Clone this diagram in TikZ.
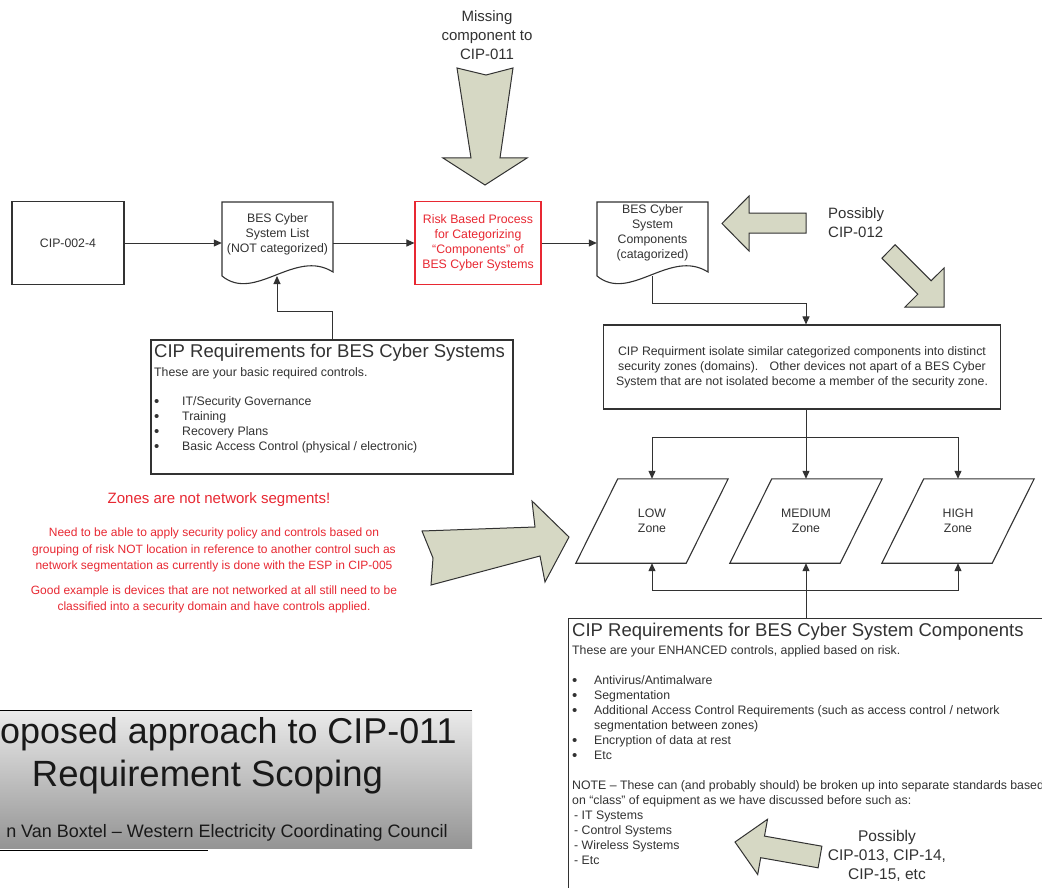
\documentclass[tikz,border=0pt]{standalone}
\usepackage{fontspec}
\setmainfont{Liberation Sans}
\usetikzlibrary{arrows.meta,calc}
\definecolor{linegray}{RGB}{50,50,50}
\definecolor{arrowfill}{RGB}{214,216,196}
\definecolor{notered}{RGB}{232,40,50}
\newcommand{\itembullet}[1]{\makebox[#1][l]{\raisebox{-0.8pt}{\fontsize{15}{15}\selectfont\textbullet}}}

\begin{document}
\begin{tikzpicture}[x=1pt, y=-1pt,
  every node/.style={text=linegray},
  txt/.style={font=\fontsize{12.3}{15}\selectfont, align=center, inner sep=0pt},
  bigtxt/.style={font=\fontsize{15}{19}\selectfont, align=center, inner sep=0pt},
  headtxt/.style={font=\fontsize{18.5}{22}\selectfont, inner sep=0pt, anchor=west},
  box/.style={txt, draw=linegray, line width=1.1pt, minimum width=112pt, minimum height=83pt},
  doc/.style={draw=linegray, line width=1.1pt, fill=white},
  flow/.style={draw=linegray, line width=1pt, -{Triangle[length=8pt,width=7pt]}},
  line/.style={draw=linegray, line width=1.1pt},
  bigarrow/.style={draw=linegray, line width=1pt, fill=arrowfill, line join=miter},
  zone/.style={txt, minimum width=110pt, minimum height=84pt},
  note/.style={txt, text=notered}]
  \useasboundingbox (0,0) rectangle (1042,888);
  \clip (0,0) rectangle (1042,888);
  \fill [white] (0,0) rectangle (1042,888);

  % top row
  \node [box] (cip002) at (68,243) {CIP-002-4};
  \draw [doc] (222,202) -- (333,202) -- (333,272) .. controls (295,248) and (255,303) .. (222,276) -- cycle;
  \node [txt, minimum width=111pt] (list) at (277.5,234) {BES Cyber\\System List\\(NOT categorized)};
  \node [box, draw=notered, text=notered, minimum width=126pt] (risk) at (478,243) {Risk Based Process\\for Categorizing\\“Components” of\\BES Cyber Systems};
  \draw [doc] (597,202) -- (708,202) -- (708,272) .. controls (670,248) and (630,303) .. (597,276) -- cycle;
  \node [txt, minimum width=111pt] (comps) at (652.5,233) {BES Cyber\\System\\Components\\(catagorized)};
  \coordinate (listbot) at (277,276);
  \coordinate (compsbot) at (652,276);

  \draw [flow] (cip002) -- (cip002 -| list.west);
  \draw [flow] (cip002 -| list.east) -- (risk);
  \draw [flow] (risk) -- (risk -| comps.west);

  % block arrows
  \node [bigtxt] (missing) at (487,35) {Missing\\component to\\CIP-011};
  \draw [bigarrow] (457,68) -- (486,75) -- (513,68) -- (500,158) -- (527,158) -- (485,185) -- (443,158) -- (471,158) -- cycle;
  \node [bigtxt, align=left, anchor=west] (cip012) at (828,223) {Possibly\\CIP-012};
  \draw [bigarrow] (806,213) -- (749,213) -- (749,196) -- (722,223.5) -- (749,251) -- (749,233) -- (806,233) -- cycle;
  \draw [bigarrow] (895.1,244.8) -- (931.1,280.8) -- (944,268) -- (944,307) -- (905,307) -- (917.8,294.2) -- (881.9,258.2) -- cycle;

  % basic requirements
  \node [draw=linegray, line width=1.1pt, minimum width=362pt, minimum height=134pt] (reqsys) at (332,407) {};
  \node [headtxt] (reqsyshead) at (154,353) {CIP Requirements for BES Cyber Systems};
  \node [txt, align=left, anchor=north west] (reqsyslist) at (154,367.5) {These are your basic required controls.\\[14pt]
    \itembullet{28pt}IT/Security Governance\\
    \itembullet{28pt}Training\\
    \itembullet{28pt}Recovery Plans\\
    \itembullet{28pt}Basic Access Control (physical / electronic)};
  \draw [flow] (reqsys.north) -- ++(0,-28) -| (listbot);

  % security zones
  \node [box, minimum width=397pt, minimum height=84pt] (isolate) at (802,367) {CIP Requirment isolate similar categorized components into distinct\\security zones (domains).~~ Other devices not apart of a BES Cyber\\System that are not isolated become a member of the security zone.};
  \draw [flow] (compsbot) -- ++(0,27) -| (isolate.north -| 806,0);

  \node [zone] (low) at (652,521) {LOW\\Zone};
  \node [zone] (medium) at (806,521) {MEDIUM\\Zone};
  \node [zone] (high) at (958,521) {HIGH\\Zone};
  \draw [line] ([xshift=21pt]low.north west) -- ([xshift=21pt]low.north east) -- ([xshift=-21pt]low.south east) -- ([xshift=-21pt]low.south west) -- cycle;
  \draw [line] ([xshift=21pt]medium.north west) -- ([xshift=21pt]medium.north east) -- ([xshift=-21pt]medium.south east) -- ([xshift=-21pt]medium.south west) -- cycle;
  \draw [line] ([xshift=21pt]high.north west) -- ([xshift=21pt]high.north east) -- ([xshift=-21pt]high.south east) -- ([xshift=-21pt]high.south west) -- cycle;

  \coordinate (split) at (806,437);
  \draw [flow] (isolate.south -| medium) -- (medium.north);
  \draw [flow] (split) -| (low.north);
  \draw [flow] (split) -| (high.north);

  % enhanced requirements
  \node [draw=linegray, line width=1.1pt, minimum width=520pt, minimum height=320pt, anchor=north west] (reqcomp) at (568,618) {};
  \coordinate (join) at (806,590);
  \draw [flow] (reqcomp.north -| medium) -- (medium.south);
  \draw [flow] (join) -| (low.south);
  \draw [flow] (join) -| (high.south);
  \node [headtxt] (reqcomphead) at (572,632) {CIP Requirements for BES Cyber System Components};
  \node [txt, align=left, anchor=north west] (reqcomplist) at (572,645.5) {These are your ENHANCED controls, applied based on risk.\\[15pt]
    \itembullet{22pt}Antivirus/Antimalware\\
    \itembullet{22pt}Segmentation\\
    \itembullet{22pt}Additional Access Control Requirements (such as access control / network\\
    \hspace*{22pt}segmentation between zones)\\
    \itembullet{22pt}Encryption of data at rest\\
    \itembullet{22pt}Etc\\[15pt]
    NOTE – These can (and probably should) be broken up into separate standards based\\
    on “class” of equipment as we have discussed before such as:\\
    \hspace*{2pt}- IT Systems\\
    \hspace*{2pt}- Control Systems\\
    \hspace*{2pt}- Wireless Systems\\
    \hspace*{2pt}- Etc};
  \draw [bigarrow] (821.9,846.2) -- (764.5,836.1) -- (767.5,819.3) -- (735,842) -- (757.7,874.5) -- (760.7,857.7) -- (818.1,867.8) -- cycle;
  \node [bigtxt, font=\fontsize{15.5}{19}\selectfont] (cip013) at (887,856) {Possibly\\CIP-013, CIP-14,\\CIP-15, etc};

  % red note
  \node [note, font=\fontsize{15}{18}\selectfont] (zonehead) at (219,500) {Zones are not network segments!};
  \node [note, font=\fontsize{12}{16.5}\selectfont] (zonenote) at (214,570.5) {Need to be able to apply security policy and controls based on\\grouping of risk NOT location in reference to another control such as\\network segmentation as currently is done with the ESP in CIP-005\\[8pt]
    Good example is devices that are not networked at all still need to be\\classified into a security domain and have controls applied.};
  \draw [bigarrow] (422,531) -- (535,527) -- (532,501) -- (569,537) -- (545,582) -- (540,556) -- (431,585) -- (433,558) -- cycle;

  % title banner
  \shade [top color=black!8, bottom color=black!42] (0,710) rectangle (472,848);
  \draw [black, line width=1pt] (0,710) -- (472,710);
  \draw [black, line width=1pt] (0,850) -- (208,850);
  \node [inner sep=0pt, anchor=west, text=black!90, font=\fontsize{35.9}{44}\selectfont] (title) at (0,734) {oposed approach to CIP-011};
  \node [inner sep=0pt, text=black!90, font=\fontsize{36.5}{44}\selectfont] (subtitle) at (207.5,777) {Requirement Scoping};
  \node [inner sep=0pt, text=black!90, font=\fontsize{18}{22}\selectfont, anchor=east] (author) at (448,833) {n Van Boxtel – Western Electricity Coordinating Council};
\end{tikzpicture}
\end{document}
